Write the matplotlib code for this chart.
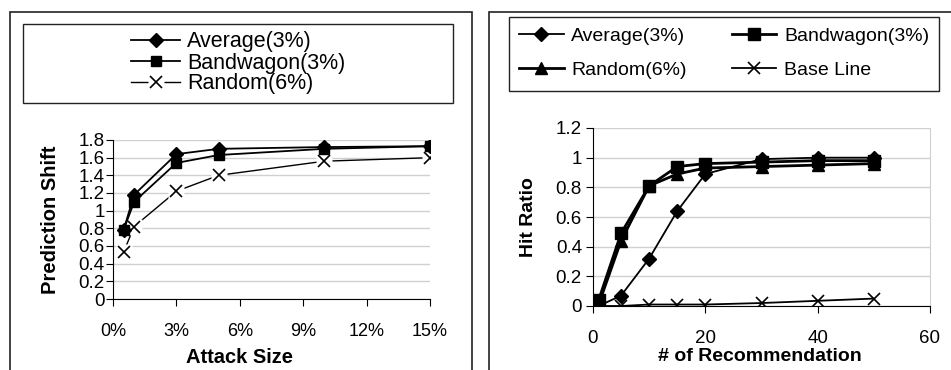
import matplotlib
matplotlib.use("Agg")
import matplotlib.pyplot as plt
from matplotlib.patches import Rectangle
from matplotlib.ticker import FuncFormatter
from matplotlib.legend_handler import HandlerTuple

plt.rcParams['font.family'] = ['Liberation Sans', 'DejaVu Sans']

# ---- Left chart data ----
attack_size = [0.5, 1, 3, 5, 10, 15]  # percent
shift_average = [0.78, 1.18, 1.64, 1.70, 1.72, 1.73]
shift_bandwagon = [0.78, 1.10, 1.54, 1.63, 1.70, 1.73]
shift_random = [0.53, 0.82, 1.22, 1.40, 1.56, 1.60]
left_labels = ["Average(3%)", "Bandwagon(3%)", "Random(6%)"]

# ---- Right chart data ----
n_rec = [1, 5, 10, 15, 20, 30, 40, 50]
hit_average = [0.0, 0.07, 0.32, 0.64, 0.89, 0.99, 1.0, 1.0]
hit_bandwagon = [0.04, 0.49, 0.81, 0.94, 0.96, 0.97, 0.98, 0.98]
hit_random = [0.01, 0.44, 0.81, 0.89, 0.93, 0.94, 0.95, 0.96]
hit_baseline = [0.0, 0.0, 0.01, 0.01, 0.01, 0.02, 0.035, 0.05]
right_labels = ["Average(3%)", "Bandwagon(3%)", "Random(6%)", "Base Line"]

W, H = 951, 370
fig = plt.figure(figsize=(W / 100, H / 100), dpi=100)

def fx(px):
    return px / W

def fy(py):
    return 1 - py / H

# panel frames
fig.patches.append(Rectangle((fx(10), fy(380)), fx(472) - fx(10), fy(12) - fy(380),
                             transform=fig.transFigure, fill=False, ec='#222222', lw=1.2, clip_on=False))
fig.patches.append(Rectangle((fx(489), fy(380)), fx(970) - fx(489), fy(12) - fy(380),
                             transform=fig.transFigure, fill=False, ec='#222222', lw=1.2, clip_on=False))
# legend boxes
fig.patches.append(Rectangle((fx(23), fy(103)), fx(453) - fx(23), fy(24) - fy(103),
                             transform=fig.transFigure, fill=False, ec='#222222', lw=1.0))
fig.patches.append(Rectangle((fx(509), fy(91)), fx(939) - fx(509), fy(17) - fy(91),
                             transform=fig.transFigure, fill=False, ec='#222222', lw=1.0))

grid_c = '#d0d0d0'

# ---------------- Left axes ----------------
ax1 = fig.add_axes([fx(113), fy(299), fx(430) - fx(113), fy(140) - fy(299)])
l1, = ax1.plot(attack_size, shift_average, color='black', lw=1.3, marker='D', ms=7, zorder=4)
l2, = ax1.plot(attack_size, shift_bandwagon, color='black', lw=1.3, marker='s', ms=7.5, zorder=4)
l3a, = ax1.plot(attack_size, shift_random, color='black', lw=1.0, zorder=3)
l3b, = ax1.plot(attack_size, shift_random, ls='none', marker='s', ms=12, mfc='white', mec='none', zorder=3.5)
l3c, = ax1.plot(attack_size, shift_random, ls='none', color='black', marker='x', ms=9, mew=1.2, zorder=4)
ax1.set_xlim(0, 15)
ax1.set_ylim(0, 1.8)
ax1.set_xticks([0, 3, 6, 9, 12, 15])
ax1.set_yticks([0, 0.2, 0.4, 0.6, 0.8, 1.0, 1.2, 1.4, 1.6, 1.8])
ax1.xaxis.set_major_formatter(FuncFormatter(lambda v, p: f"{v:.0f}%"))
ax1.yaxis.set_major_formatter(FuncFormatter(lambda v, p: f"{v:g}"))
ax1.yaxis.grid(True, color=grid_c, lw=1.0)
ax1.set_axisbelow(True)
for s in ['top', 'right']:
    ax1.spines[s].set_visible(False)
ax1.tick_params(axis='y', labelsize=13.5, length=5, pad=1, direction='out')
ax1.tick_params(axis='x', labelsize=13, length=5, pad=12, direction='out')
ax1.set_xlabel("Attack Size", fontsize=14.5, fontweight='bold')
ax1.set_ylabel("Prediction Shift", fontsize=14.5, fontweight='bold')
ax1.xaxis.set_label_coords((240 - 113) / (430 - 113), -(348 - 299) / (299 - 140))
ax1.yaxis.set_label_coords(-(113 - 60) / (430 - 113), 0.5)

# left legend
fig.legend([l1, l2, (l3a, l3b, l3c)], left_labels, loc='center', bbox_to_anchor=(fx(238), fy(63)),
           frameon=False, fontsize=15.5, handlelength=2.3, handletextpad=0.3,
           labelspacing=0.0, borderpad=0,
           handler_map={tuple: HandlerTuple(ndivide=1, pad=0)})

# ---------------- Right axes ----------------
ax2 = fig.add_axes([fx(593), fy(306), fx(930) - fx(593), fy(128) - fy(306)])
r1, = ax2.plot(n_rec, hit_average, color='black', lw=1.3, marker='D', ms=7, zorder=4)
r2, = ax2.plot(n_rec, hit_bandwagon, color='black', lw=2.0, marker='s', ms=8, zorder=4)
r3, = ax2.plot(n_rec, hit_random, color='black', lw=2.0, marker='^', ms=8, zorder=4)
r4, = ax2.plot(n_rec, hit_baseline, color='black', lw=1.3, marker='x', ms=9, mew=1.2, zorder=4)
ax2.set_xlim(0, 60)
ax2.set_ylim(0, 1.2)
ax2.set_xticks([0, 20, 40, 60])
ax2.set_yticks([0, 0.2, 0.4, 0.6, 0.8, 1.0, 1.2])
ax2.yaxis.set_major_formatter(FuncFormatter(lambda v, p: f"{v:g}"))
ax2.yaxis.grid(True, color=grid_c, lw=1.0)
ax2.set_axisbelow(True)
ax2.spines['top'].set_visible(False)
ax2.spines['right'].set_color(grid_c)
ax2.tick_params(axis='y', labelsize=13.5, length=5, pad=3, direction='out')
ax2.tick_params(axis='x', labelsize=13.5, length=5, pad=12, direction='out')
ax2.set_xlabel("# of Recommendation", fontsize=14, fontweight='bold')
ax2.set_ylabel("Hit Ratio", fontsize=14, fontweight='bold')
ax2.xaxis.set_label_coords((760 - 593) / (930 - 593), -(348 - 306) / (306 - 128))
ax2.yaxis.set_label_coords(-(593 - 537) / (930 - 593), 0.5)

# right legend (2 columns: Average/Random, Bandwagon/Base Line)
fig.legend([r1, r3, r2, r4], [right_labels[0], right_labels[2], right_labels[1], right_labels[3]],
           loc='center', ncol=2, bbox_to_anchor=(fx(724), fy(53)),
           frameon=False, fontsize=14, handlelength=2.3, handletextpad=0.4,
           labelspacing=0.85, columnspacing=2.3, borderpad=0)

fig.savefig("out.png", dpi=100)
